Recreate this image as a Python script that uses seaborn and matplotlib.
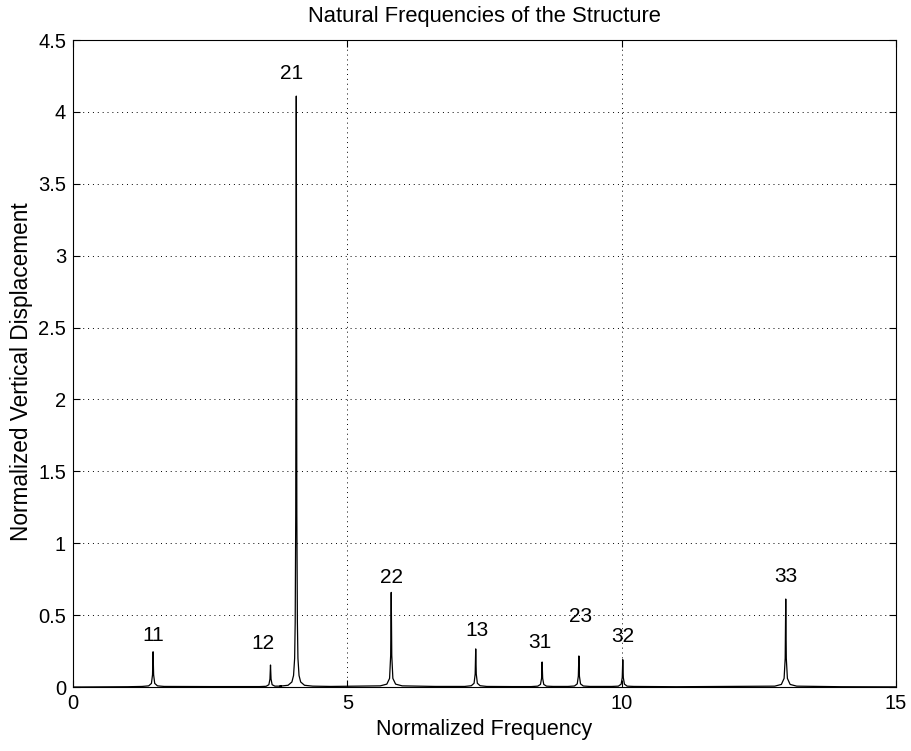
import matplotlib
matplotlib.use("Agg")
import matplotlib.pyplot as plt
import seaborn as sns
import pandas as pd

# Curve points (normalized frequency, displacement)
freq = [0.0, 1.0, 1.26, 1.38, 1.43, 1.45, 1.46, 1.47, 1.49, 1.54, 1.66, 2.5,
        3.40, 3.52, 3.57, 3.59, 3.60, 3.61, 3.63, 3.68, 3.80,
        3.77, 3.92, 3.99, 4.02, 4.04, 4.05, 4.06, 4.07, 4.08, 4.09, 4.10, 4.12, 4.15, 4.22, 4.37, 4.7,
        5.60, 5.72, 5.77, 5.79, 5.80, 5.81, 5.83, 5.88, 6.00, 6.6,
        7.14, 7.26, 7.31, 7.33, 7.34, 7.35, 7.37, 7.42, 7.54, 8.0,
        8.35, 8.47, 8.52, 8.54, 8.55, 8.56, 8.58, 8.63, 8.75,
        9.02, 9.14, 9.19, 9.21, 9.22, 9.23, 9.25, 9.30, 9.42,
        9.82, 9.94, 9.99, 10.01, 10.02, 10.03, 10.05, 10.10, 10.22, 11.0,
        12.79, 12.91, 12.96, 12.98, 12.99, 13.00, 13.02, 13.07, 13.19, 14.0, 15.0]
disp = [0.0, 0.002, 0.004, 0.008, 0.025, 0.085, 0.245, 0.085, 0.025, 0.008, 0.004, 0.003,
        0.003, 0.005, 0.016, 0.055, 0.153, 0.055, 0.016, 0.006, 0.006,
        0.006, 0.012, 0.035, 0.08, 0.2, 0.45, 1.2, 4.11, 1.2, 0.45, 0.2, 0.08, 0.035, 0.012, 0.006, 0.004,
        0.008, 0.02, 0.06, 0.22, 0.658, 0.22, 0.06, 0.02, 0.008, 0.004,
        0.004, 0.009, 0.026, 0.09, 0.265, 0.09, 0.026, 0.009, 0.004, 0.003,
        0.003, 0.006, 0.018, 0.06, 0.174, 0.06, 0.018, 0.006, 0.004,
        0.004, 0.007, 0.022, 0.075, 0.216, 0.075, 0.022, 0.007, 0.004,
        0.004, 0.006, 0.02, 0.065, 0.19, 0.065, 0.02, 0.006, 0.004, 0.002,
        0.006, 0.018, 0.06, 0.2, 0.612, 0.2, 0.06, 0.018, 0.006, 0.002, 0.001]

# Mode labels and their positions
mode_labels = ["11", "12", "21", "22", "13", "31", "23", "32", "33"]
label_x = [1.46, 3.46, 3.98, 5.80, 7.36, 8.51, 9.25, 10.02, 12.99]
label_y = [0.36, 0.30, 4.27, 0.76, 0.39, 0.31, 0.49, 0.35, 0.77]

x_ticks = [0, 5, 10, 15]
y_ticks = [0, 0.5, 1, 1.5, 2, 2.5, 3, 3.5, 4, 4.5]
y_tick_labels = ["0", "0.5", "1", "1.5", "2", "2.5", "3", "3.5", "4", "4.5"]

sns.set_style("ticks")
plt.rcParams['font.family'] = ['Liberation Sans', 'DejaVu Sans']
plt.rcParams['text.color'] = 'black'
plt.rcParams['axes.labelcolor'] = 'black'
plt.rcParams['xtick.color'] = 'black'
plt.rcParams['ytick.color'] = 'black'

df = pd.DataFrame({"freq": freq, "disp": disp})

fig = plt.figure(figsize=(9.12, 7.51), dpi=100)
ax = fig.add_axes([0.080, 0.0852, 0.9025, 0.8615])

sns.lineplot(data=df, x="freq", y="disp", ax=ax, color="black", linewidth=0.9,
             sort=False, estimator=None)

for lab, lx, ly in zip(mode_labels, label_x, label_y):
    ax.text(lx, ly, lab, ha="center", va="center", fontsize=15, color="black")

ax.set_xlim(0, 15)
ax.set_ylim(0, 4.5)
ax.set_xticks(x_ticks)
ax.set_yticks(y_ticks)
ax.set_yticklabels(y_tick_labels)
ax.grid(True, color="black", linestyle=(0, (1, 4)), linewidth=0.7)
ax.tick_params(direction="in", top=True, right=True, length=5, width=0.8,
               labelsize=14.5, colors="black", pad=5)
for s in ax.spines.values():
    s.set_visible(True)
    s.set_color("black")
    s.set_linewidth(0.8)

ax.set_xlabel("Normalized Frequency", fontsize=15.5, labelpad=4, color="black")
ax.set_ylabel("Normalized Vertical Displacement", fontsize=16.3, color="black")
ax.yaxis.set_label_coords(-0.0485, 0.488)
ax.set_title("Natural Frequencies of the Structure", fontsize=15.8, pad=13, color="black")

fig.savefig("out.png", dpi=100)
